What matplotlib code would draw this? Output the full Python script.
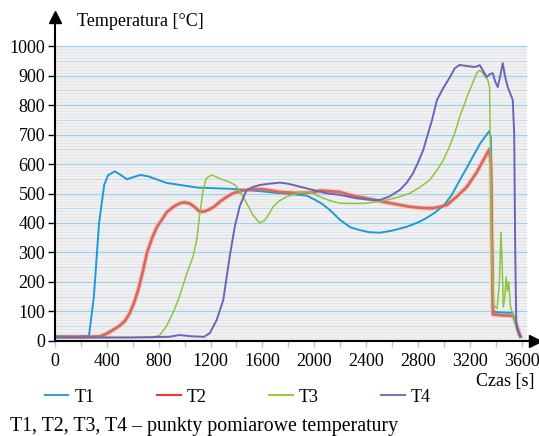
"""Temperature curves T1-T4 recreated from the reference chart."""

import matplotlib

matplotlib.use("Agg")
import matplotlib.pyplot as plt
from matplotlib.lines import Line2D
from matplotlib.ticker import MultipleLocator

plt.rcParams["font.family"] = ["Liberation Serif", "DejaVu Serif"]

# --- data (time [s], temperature [C]) ---
t1_time = [0, 150, 262, 300, 340, 380, 410, 460, 500, 555, 600, 660, 720, 860,
           964, 1100, 1221, 1350, 1478, 1600, 1735, 1850, 1940, 2000, 2060, 2120,
           2200, 2280, 2351, 2420, 2506, 2600, 2712, 2800, 2866, 2930, 3000, 3060,
           3122, 3180, 3223, 3280, 3330, 3350, 3362, 3378, 3420, 3480, 3530, 3545,
           3565, 3585, 3595]
t1_temp = [16, 15, 17, 150, 400, 530, 562, 575, 565, 548, 555, 563, 558, 536,
           529, 520, 518, 516, 512, 507, 501, 497, 493, 480, 465, 444,
           410, 385, 376, 369, 367, 374, 387, 402, 417, 435, 460, 495,
           545, 590, 625, 670, 700, 712, 690, 100, 97, 96, 95, 70,
           40, 20, 15]

t2_time = [0, 200, 347, 400, 450, 500, 540, 578, 610, 640, 680, 709, 750, 786,
           830, 863, 920, 964, 1000, 1040, 1075, 1118, 1160, 1221, 1280, 1330,
           1375, 1450, 1528, 1600, 1735, 1850, 1992, 2043, 2120, 2197, 2274, 2400,
           2530, 2640, 2737, 2830, 2914, 2970, 3022, 3100, 3176, 3250, 3300, 3350,
           3362, 3378, 3450, 3530, 3545, 3570, 3590]
t2_temp = [14, 14, 15, 25, 38, 52, 68, 95, 130, 170, 240, 298, 350, 386,
           415, 437, 457, 467, 470, 466, 455, 438, 440, 453, 475, 490,
           501, 510, 514, 515, 505, 502, 503, 510, 508, 505, 495, 484,
           472, 463, 455, 451, 450, 455, 461, 490, 522, 570, 610, 650,
           600, 90, 87, 85, 75, 40, 15]

t3_time = [0, 500, 760, 809, 860, 910, 960, 1018, 1064, 1093, 1118, 1143, 1165,
           1208, 1250, 1297, 1340, 1388, 1430, 1478, 1530, 1580, 1620, 1650, 1683,
           1730, 1786, 1860, 1940, 1992, 2043, 2120, 2197, 2300, 2403, 2480, 2560,
           2650, 2737, 2810, 2891, 2945, 2995, 3034, 3080, 3122, 3180, 3253, 3275,
           3292, 3320, 3338, 3352, 3368, 3385, 3410, 3428, 3440, 3450, 3458, 3470,
           3480, 3490, 3500, 3512, 3530, 3550, 3570, 3585]
t3_temp = [11, 11, 12, 20, 50, 95, 150, 230, 285, 342, 434, 512, 550,
           563, 555, 546, 540, 529, 505, 467, 425, 400, 410, 430, 455,
           475, 489, 500, 506, 500, 489, 476, 467, 466, 467, 472, 478,
           488, 501, 520, 546, 578, 613, 650, 700, 760, 830, 908, 918,
           912, 895, 885, 860, 300, 120, 110, 200, 369, 250, 115, 150,
           217, 170, 200, 120, 90, 60, 30, 12]

t4_time = [0, 600, 880, 960, 1050, 1150, 1195, 1247, 1298, 1349, 1388, 1426,
           1478, 1528, 1580, 1650, 1735, 1800, 1889, 2000, 2095, 2200, 2325, 2420,
           2506, 2580, 2660, 2710, 2762, 2800, 2840, 2875, 2908, 2946, 2994, 3040,
           3084, 3122, 3180, 3240, 3277, 3310, 3331, 3355, 3377, 3395, 3415, 3435,
           3454, 3470, 3492, 3515, 3531, 3542, 3550, 3558, 3575, 3590]
t4_temp = [12, 12, 14, 20, 16, 14, 27, 71, 139, 290, 390, 458,
           512, 522, 529, 533, 537, 533, 523, 511, 501, 495, 484, 479,
           478, 490, 512, 535, 569, 605, 647, 700, 749, 817, 857, 890,
           925, 936, 932, 929, 935, 910, 895, 905, 908, 880, 861, 900,
           942, 900, 861, 835, 817, 700, 300, 60, 25, 15]

series_names = ["T1", "T2", "T3", "T4"]
line_colors = ["#1c9bd7", "#d8695c", "#8cc640", "#6e62b9"]
legend_colors = ["#2aa5df", "#e83a36", "#9acd32", "#7a72c4"]
x_ticks = list(range(0, 3601, 400))
y_ticks = list(range(0, 1001, 100))

# --- figure ---
fig = plt.figure(figsize=(5.39, 4.36), dpi=100)
ax = fig.add_axes([0.102, 0.218, 0.890, 0.744])
ax.set_xlim(0, 3700)
ax.set_ylim(0, 1100)
ax.set_facecolor("white")

# scanned-looking background with dense horizontal lines
ax.fill_between([0, 3640], 0, 1000, color="#eef1f3", zorder=0, lw=0)
for level in range(0, 1001, 10):
    if level % 100 == 0:
        col, lw = "#a3cfe8", 0.9
    elif level % 50 == 0:
        col, lw = "#c0deef", 0.7
    elif level % 20 == 0:
        col, lw = "#f4e0d9", 0.6
    else:
        col, lw = "#e0e3e6", 0.5
    ax.hlines(level, 0, 3640, colors=col, linewidth=lw, zorder=1)

# curves
all_series = [(t1_time, t1_temp), (t2_time, t2_temp),
              (t3_time, t3_temp), (t4_time, t4_temp)]
widths = [1.4, 2.0, 1.1, 1.4]
for idx, ((tt, yy), col, lw) in enumerate(zip(all_series, line_colors, widths)):
    if idx == 1:
        ax.plot(tt, yy, color="#f1cdc6", linewidth=lw + 1.6, zorder=2)
    ax.plot(tt, yy, color=col, linewidth=lw, zorder=3)

# axes styling with arrow heads
for side in ("top", "right"):
    ax.spines[side].set_visible(False)
for side in ("left", "bottom"):
    ax.spines[side].set_color("black")
    ax.spines[side].set_linewidth(1.5)
    ax.spines[side].set_zorder(5)
ax.plot(1, 0, ">", color="black", markersize=9, transform=ax.get_yaxis_transform(),
        clip_on=False, zorder=6)
ax.plot(0, 1, "^", color="black", markersize=9, transform=ax.get_xaxis_transform(),
        clip_on=False, zorder=6)

ax.set_xticks(x_ticks)
ax.set_xticklabels([str(v) for v in x_ticks])
ax.xaxis.set_minor_locator(MultipleLocator(200))
ax.set_yticks(y_ticks)
ax.set_yticklabels([str(v) for v in y_ticks])
ax.tick_params(axis="x", which="both", length=4, color="#9ccbe6", width=1,
               labelsize=13, pad=5)
ax.tick_params(axis="y", which="major", length=5, color="black", width=1,
               labelsize=13, pad=2)

fig.text(77 / 539, 1 - 22 / 436, "Temperatura [°C]", fontsize=13,
         ha="left", va="center")
fig.text(535 / 539, 1 - 381 / 436, "Czas [s]", fontsize=13,
         ha="right", va="center")

handles = [Line2D([], [], color=c, linewidth=1.5) for c in legend_colors]
fig.legend(handles, series_names, loc="center left",
           bbox_to_anchor=(45 / 539, 1 - 397 / 436), ncol=4, frameon=False,
           fontsize=13, handlelength=1.3, handletextpad=0.35,
           columnspacing=3.45, borderpad=0, borderaxespad=0)

fig.text(10 / 539, 1 - 426 / 436,
         "T1, T2, T3, T4 – punkty pomiarowe temperatury", fontsize=14.3,
         ha="left", va="center")

fig.savefig("out.png", dpi=100)
